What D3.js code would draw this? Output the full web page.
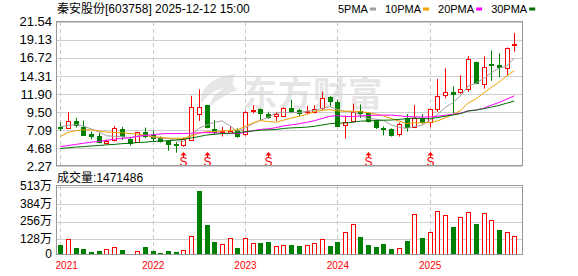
<!DOCTYPE html>
<html>
<head>
<meta charset="utf-8">
<script src="https://cdn.jsdelivr.net/npm/d3@7"></script>
<style>
body { margin: 0; background: #fff; }
</style>
</head>
<body>
<div id="chart"></div>
<script>
var width = 578;
var height = 276;

// monthly bars, 2021-01 .. 2025-12
var months = d3.range(60).map(function(i) {
    return (2021 + Math.floor(i / 12)) + '-' + String(i % 12 + 1).padStart(2, '0');
});

var open = [7.45, 7.39, 8.28, 7.45, 6.55, 6.30, 5.40, 5.75, 7.20, 5.90,
            5.50, 6.80, 6.45, 5.95, 5.60, 5.25, 5.10, 5.85, 9.20, 10.40,
            7.20, 6.75, 6.75, 7.10, 6.50, 9.55, 9.85, 9.20, 9.00, 8.95,
            10.00, 9.75, 9.45, 9.40, 9.95, 11.45, 10.85, 7.75, 8.25, 9.65,
            9.30, 8.40, 7.40, 7.20, 6.45, 8.65, 7.50, 8.65, 8.05, 9.85,
            11.75, 12.20, 12.05, 12.50, 16.10, 13.30, 15.95, 15.75, 15.35, 18.45];
var high = [8.10, 9.44, 8.70, 8.35, 6.85, 6.70, 5.80, 7.60, 7.50, 6.15,
            6.85, 7.40, 7.00, 6.20, 5.70, 5.45, 6.05, 11.65, 12.50, 10.45,
            8.40, 7.50, 7.60, 7.30, 9.65, 10.40, 9.95, 9.50, 9.50, 10.10,
            11.10, 9.90, 10.30, 10.40, 12.20, 11.60, 11.10, 9.00, 10.60, 10.50,
            9.45, 8.45, 7.55, 7.30, 8.05, 9.20, 10.40, 9.20, 9.95, 13.90,
            15.30, 12.90, 14.40, 16.95, 16.20, 16.90, 17.70, 17.30, 18.10, 20.05];
var low = [6.95, 7.20, 7.40, 6.30, 5.85, 5.30, 5.25, 5.55, 5.75, 5.00,
           5.50, 6.00, 5.50, 5.40, 4.30, 4.05, 4.85, 5.60, 8.30, 7.30,
           6.50, 6.20, 6.55, 6.05, 6.30, 9.30, 8.40, 8.55, 8.30, 8.85,
           9.30, 8.85, 9.20, 9.30, 9.75, 10.20, 7.60, 5.95, 8.10, 8.70,
           8.10, 7.20, 6.35, 6.20, 6.20, 6.85, 7.50, 7.90, 7.45, 9.50,
           11.30, 9.30, 11.90, 12.20, 13.20, 12.60, 13.65, 14.10, 14.40, 17.55];
var close = [7.35, 8.28, 7.75, 6.40, 6.30, 5.45, 5.65, 7.40, 6.20, 5.35,
             6.80, 6.30, 6.00, 5.55, 5.20, 5.15, 5.85, 10.20, 10.10, 7.40,
             6.85, 6.95, 7.00, 6.35, 9.50, 9.75, 9.30, 8.85, 9.25, 10.00,
             9.65, 9.35, 9.60, 9.85, 11.30, 10.85, 7.65, 8.20, 9.45, 9.40,
             8.20, 7.40, 7.30, 6.45, 7.85, 7.50, 8.65, 8.05, 9.85, 11.60,
             12.20, 11.95, 12.50, 16.50, 13.30, 15.55, 15.80, 15.45, 18.00, 18.60];

// volume, in 万
var volume = [85, 127, 63, 56, 36, 41, 53, 68, 48, 19,
              39, 70, 43, 29, 41, 34, 46, 151, 481, 231,
              109, 92, 134, 63, 134, 100, 100, 107, 78, 85,
              85, 78, 85, 100, 127, 78, 107, 178, 237, 144,
              85, 70, 92, 53, 61, 114, 310, 136, 178, 332,
              302, 217, 288, 325, 239, 317, 266, 195, 178, 147.1];

var ma5 = [7.50, 7.70, 7.80, 7.60, 7.22, 6.84, 6.31, 6.24, 6.20, 6.01,
           6.28, 6.41, 6.13, 6.00, 5.97, 5.64, 5.55, 6.39, 7.30, 7.74,
           8.08, 8.30, 7.66, 6.91, 7.33, 7.91, 8.38, 8.75, 9.33, 9.43,
           9.41, 9.42, 9.57, 9.69, 9.95, 10.19, 9.85, 9.57, 9.49, 9.11,
           8.58, 8.53, 8.35, 7.75, 7.44, 7.30, 7.55, 7.70, 8.38, 9.13,
           10.07, 10.73, 11.62, 12.95, 13.29, 13.96, 14.73, 15.32, 15.62, 16.68];
var ma10 = [6.20, 6.75, 6.98, 7.10, 7.10, 6.95, 6.80, 6.75, 6.70, 6.61,
            6.56, 6.36, 6.19, 6.10, 5.99, 5.96, 5.98, 6.26, 6.65, 6.86,
            6.86, 6.93, 7.03, 7.11, 7.54, 8.00, 8.34, 8.21, 8.12, 8.38,
            8.66, 8.90, 9.16, 9.51, 9.69, 9.80, 9.64, 9.57, 9.59, 9.53,
            9.39, 9.19, 8.96, 8.62, 8.28, 7.94, 8.04, 8.03, 8.07, 8.29,
            8.69, 9.14, 9.66, 10.67, 11.21, 12.02, 12.73, 13.47, 14.29, 14.99];
var ma20 = [4.85, 5.00, 5.15, 5.30, 5.45, 5.55, 5.70, 5.85, 5.95, 6.05,
            6.20, 6.35, 6.45, 6.55, 6.60, 6.60, 6.60, 6.65, 6.70, 6.73,
            6.71, 6.64, 6.61, 6.60, 6.76, 6.98, 7.16, 7.23, 7.39, 7.62,
            7.76, 7.91, 8.09, 8.31, 8.61, 8.90, 8.99, 8.89, 8.86, 8.96,
            9.02, 9.05, 9.06, 9.07, 8.98, 8.87, 8.84, 8.80, 8.83, 8.91,
            9.04, 9.17, 9.31, 9.64, 9.74, 9.98, 10.39, 10.75, 11.18, 11.64];
var ma30 = [4.60, 4.70, 4.80, 4.85, 4.95, 5.00, 5.10, 5.15, 5.25, 5.30,
            5.40, 5.45, 5.55, 5.60, 5.65, 5.75, 5.85, 6.00, 6.20, 6.40,
            6.50, 6.60, 6.65, 6.70, 6.85, 6.95, 7.05, 7.10, 7.15, 7.28,
            7.36, 7.40, 7.46, 7.57, 7.74, 7.92, 7.99, 8.01, 8.12, 8.26,
            8.30, 8.34, 8.38, 8.41, 8.50, 8.58, 8.67, 8.60, 8.59, 8.73,
            8.91, 9.08, 9.26, 9.60, 9.73, 9.92, 10.14, 10.36, 10.65, 10.93];

var priceTicks = [2.27, 4.68, 7.09, 9.50, 11.90, 14.31, 16.72, 19.13, 21.54];
var volTicks = [0, 128, 256, 384, 513];
var volTickLabels = ['0', '128万', '256万', '384万', '513万'];
var splitMonths = ['2022-05', '2022-08', '2023-04', '2024-05', '2025-01'];
var maNames = ['5PMA', '10PMA', '20PMA', '30PMA'];
var maColors = ['#a0a0a0', '#f0a000', '#ff00ff', '#007000'];
var titleText = '秦安股份[603758] 2025-12-12  15:00';
var volLabel = '成交量:1471486';

var UP = '#ff0000', DOWN = '#008000';

var svg = d3.select('#chart')
    .append('svg')
    .attr('width', width)
    .attr('height', height)
    .style('font-family', '"Liberation Sans", "Noto Sans CJK SC", sans-serif');

var pane = {left: 56, right: 522, top: 22, bottom: 166};
var vpane = {top: 186, bottom: 255};

var x = d3.scaleLinear().domain([0, months.length - 1]).range([60.3, 514.3]);
var y = d3.scaleLinear().domain([priceTicks[0], priceTicks[priceTicks.length - 1]]).range([166, 21.7]);
var yv = d3.scaleLinear().domain([0, 513]).range([256.6, 186.5]);

function crisp(v) { return Math.round(v) + 0.5; }

var defs = svg.append('defs');
defs.append('clipPath').attr('id', 'clipP').append('rect')
    .attr('x', pane.left).attr('y', pane.top).attr('width', pane.right - pane.left).attr('height', pane.bottom - pane.top);
defs.append('clipPath').attr('id', 'clipV').append('rect')
    .attr('x', pane.left).attr('y', vpane.top).attr('width', pane.right - pane.left).attr('height', vpane.bottom - vpane.top);

// watermark
var wm = svg.append('g').attr('fill', '#e6e6e6');
wm.append('path')
    .attr('d', 'M236,74 C214,76 199,88 201,104 C206,96 214,90 224,88 C216,93 211,99 210,106 C220,98 230,92 238,90 C232,86 231,80 236,74 Z');
wm.append('text')
    .attr('x', 243).attr('y', 106)
    .attr('font-size', 34).attr('font-weight', 'bold')
    .attr('letter-spacing', 1)
    .style('font-family', '"Noto Sans CJK SC", sans-serif')
    .text('东方财富');

// grid
var grid = svg.append('g');
grid.selectAll('line.h').data(priceTicks).enter().append('line')
    .attr('x1', pane.left).attr('x2', pane.right)
    .attr('y1', function(d) { return crisp(y(d)); })
    .attr('y2', function(d) { return crisp(y(d)); })
    .attr('stroke', '#cfcfcf');
grid.selectAll('line.v').data(volTicks.slice(1)).enter().append('line')
    .attr('x1', pane.left).attr('x2', pane.right)
    .attr('y1', function(d) { return crisp(yv(d)); })
    .attr('y2', function(d) { return crisp(yv(d)); })
    .attr('stroke', '#cfcfcf');

var yearIdx = months.map(function(m, i) { return i; }).filter(function(i) { return months[i].slice(5) === '01'; });
[[pane.top, pane.bottom], [vpane.top, vpane.bottom]].forEach(function(r) {
    grid.selectAll(null).data(yearIdx).enter().append('line')
        .attr('x1', function(i) { return crisp(x(i)); })
        .attr('x2', function(i) { return crisp(x(i)); })
        .attr('y1', r[0]).attr('y2', r[1])
        .attr('stroke', '#c8c8c8')
        .attr('stroke-dasharray', '4,3');
});

// candles
var idx = d3.range(months.length);
var candles = svg.append('g').attr('clip-path', 'url(#clipP)');
var cg = candles.selectAll('g').data(idx).enter().append('g');
cg.append('line')
    .attr('x1', function(i) { return crisp(x(i)); })
    .attr('x2', function(i) { return crisp(x(i)); })
    .attr('y1', function(i) { return y(high[i]); })
    .attr('y2', function(i) { return y(low[i]); })
    .attr('stroke', function(i) { return close[i] >= open[i] ? UP : DOWN; });
cg.append('rect')
    .attr('x', function(i) { return Math.round(x(i)) - 2 + 0.5; })
    .attr('width', 4)
    .attr('y', function(i) { return Math.round(y(Math.max(open[i], close[i]))) + 0.5; })
    .attr('height', function(i) { return Math.max(1, Math.round(Math.abs(y(open[i]) - y(close[i])))); })
    .attr('fill', function(i) { return close[i] >= open[i] ? '#fff' : DOWN; })
    .attr('stroke', function(i) { return close[i] >= open[i] ? UP : DOWN; });

// moving averages
var maSeries = [ma5, ma10, ma20, ma30];
var lineGen = d3.line().x(function(d, i) { return x(i); }).y(function(d) { return y(d); });
svg.append('g').attr('clip-path', 'url(#clipP)')
    .selectAll('path').data(maSeries).enter().append('path')
    .attr('d', lineGen)
    .attr('fill', 'none')
    .attr('stroke', function(d, k) { return maColors[k]; })
    .attr('stroke-width', 1);

// split markers
var sm = svg.append('g').attr('fill', UP);
splitMonths.forEach(function(m) {
    var cx = crisp(x(months.indexOf(m)));
    sm.append('path').attr('d', 'M' + (cx - 3) + ',155.5 L' + cx + ',152 L' + (cx + 3) + ',155.5 Z');
    sm.append('rect').attr('x', cx - 0.5).attr('y', 155).attr('width', 1).attr('height', 2);
    sm.append('text').attr('x', cx).attr('y', 165.5).attr('text-anchor', 'middle')
        .attr('font-size', 12).text('S');
});

// volume bars
var vols = svg.append('g').attr('clip-path', 'url(#clipV)');
vols.selectAll('rect').data(idx).enter().append('rect')
    .attr('x', function(i) { return Math.round(x(i)) - 2 + 0.5; })
    .attr('width', 4)
    .attr('y', function(i) { return Math.round(yv(volume[i])) + 0.5; })
    .attr('height', function(i) { return yv(0) - Math.round(yv(volume[i])); })
    .attr('fill', function(i) {
        var up = i === 0 ? close[i] >= open[i] : close[i] >= close[i - 1];
        return up ? '#fff' : DOWN;
    })
    .attr('stroke', function(i) {
        var up = i === 0 ? close[i] >= open[i] : close[i] >= close[i - 1];
        return up ? UP : DOWN;
    });

// frames
[[pane.top, pane.bottom], [vpane.top, vpane.bottom]].forEach(function(r) {
    svg.append('rect')
        .attr('x', pane.left + 0.5).attr('y', r[0] - 0.5)
        .attr('width', pane.right - pane.left).attr('height', r[1] - r[0])
        .attr('fill', 'none').attr('stroke', '#999');
});

// axes
var ay = svg.append('g').attr('transform', 'translate(' + pane.left + ',0)')
    .call(d3.axisLeft(y).tickValues(priceTicks).tickFormat(d3.format('.2f')).tickSize(0).tickPadding(4));
ay.select('.domain').remove();
ay.selectAll('text').attr('font-size', 13).attr('fill', '#000')
    .style('font-family', '"Liberation Sans", sans-serif');
ay.attr('font-family', null).attr('font-size', null);

var av = svg.append('g').attr('transform', 'translate(' + pane.left + ',0)')
    .call(d3.axisLeft(yv).tickValues(volTicks).tickFormat(function(d, i) { return volTickLabels[i]; }).tickSize(0).tickPadding(4));
av.select('.domain').remove();
av.attr('font-family', null).attr('font-size', null);
av.selectAll('.tick').attr('transform', function(d) { return 'translate(0,' + Math.min(yv(d), 254) + ')'; });
av.selectAll('text').attr('font-size', 12).attr('fill', '#000');

var ax = svg.append('g').attr('transform', 'translate(0,' + vpane.bottom + ')')
    .call(d3.axisBottom(x).tickValues(yearIdx).tickFormat(function(i) { return months[i].slice(0, 4); }).tickSize(0).tickPadding(7));
ax.select('.domain').remove();
ax.attr('font-family', null).attr('font-size', null);
ax.selectAll('text').attr('font-size', 10).attr('fill', UP);
ax.select('.tick text').attr('text-anchor', 'start').attr('x', 55 - x(0));

// title & labels
svg.append('text').attr('x', 57).attr('y', 13).attr('font-size', 12).text(titleText);
svg.append('text').attr('x', 57).attr('y', 182).attr('font-size', 12).text(volLabel);

// legend
var lg = svg.append('g');
var cursor = 338;
maNames.forEach(function(name, k) {
    var t = lg.append('text').attr('x', cursor).attr('y', 13).attr('font-size', 11)
        .style('font-family', '"Liberation Sans Narrow", "Liberation Sans", sans-serif')
        .text(name);
    var w = t.node().getComputedTextLength();
    lg.append('rect').attr('x', cursor + w + 2).attr('y', 7.5).attr('width', 6).attr('height', 3)
        .attr('fill', maColors[k]);
    cursor = cursor + w + 2 + 6 + 9;
});
</script>
</body>
</html>
